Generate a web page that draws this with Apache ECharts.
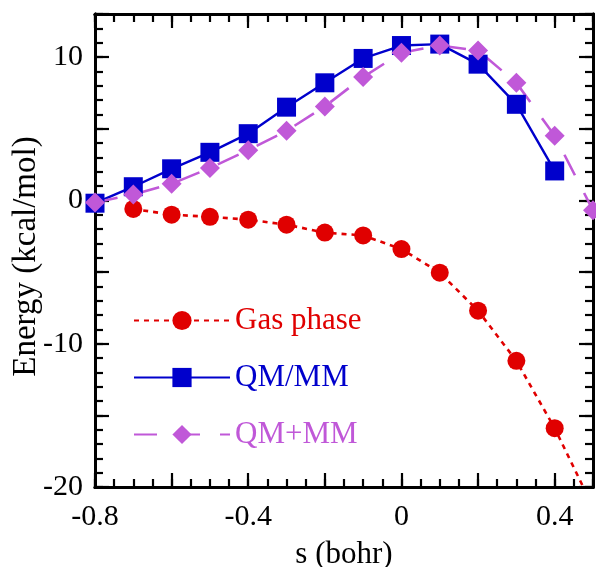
<!DOCTYPE html>
<html>
<head>
<meta charset="utf-8">
<script src="https://cdn.jsdelivr.net/npm/echarts@6/dist/echarts.min.js"></script>
<style>
html,body{margin:0;padding:0;background:#fff;}
#chart{width:596px;height:567px;}
</style>
</head>
<body>
<div id="chart"></div>
<script>
// ---- data ----
const sValues   = [-0.8, -0.7, -0.6, -0.5, -0.4, -0.3, -0.2, -0.1, 0.0, 0.1, 0.2, 0.3, 0.4, 0.5];
const gasPhase  = [null, -0.6, -1.0, -1.15, -1.35, -1.7, -2.25, -2.45, -3.4, -5.05, -7.7, -11.2, -15.9, -21.4];
const qmmm      = [-0.2, 0.95, 2.2, 3.35, 4.65, 6.5, 8.2, 9.9, 10.8, 10.9, 9.5, 6.7, 2.05, null];
const qmPlusMm  = [-0.15, 0.4, 1.15, 2.25, 3.5, 4.85, 6.55, 8.6, 10.3, 10.8, 10.45, 8.2, 4.5, -0.7];
const seriesNames = ['Gas phase', 'QM/MM', 'QM+MM'];
const xTickValues = [-0.8, -0.4, 0, 0.4];
const xTickLabels = ['-0.8', '-0.4', '0', '0.4'];
const yTickValues = [-20, -10, 0, 10];
const yTickLabels = ['-20', '-10', '0', '10'];

const FONT = '"Liberation Serif", "Times New Roman", serif';
const RED = '#e00000', BLUE = '#0000cc', VIOLET = '#c058d8';

function pairs(ys) { return sValues.map((x, i) => [x, ys[i]]); }
function lookup(values, labels) {
  return function (v) {
    for (let i = 0; i < values.length; i++) {
      if (Math.abs(v - values[i]) < 1e-6) return labels[i];
    }
    return '';
  };
}

const axisLine = { show: true, onZero: false, lineStyle: { color: '#000', width: 3 } };
function xAx(pos, interval, len, labels) {
  return {
    type: 'value', position: pos, min: -0.8, max: 0.5, interval: interval,
    axisLine: axisLine,
    axisTick: { show: true, inside: true, length: len, lineStyle: { color: '#000', width: 2.2 } },
    axisLabel: labels ? { show: true, formatter: lookup(xTickValues, xTickLabels), color: '#000',
      fontFamily: FONT, fontSize: 30, margin: 15 } : { show: false },
    splitLine: { show: false },
    name: labels ? 's (bohr)' : '', nameLocation: 'middle', nameGap: 52, nameMoveOverlap: false,
    nameTextStyle: { fontFamily: FONT, fontSize: 31, color: '#000' }
  };
}
function yAx(pos, interval, len, labels) {
  return {
    type: 'value', position: pos, min: -20, max: 13, interval: interval,
    axisLine: axisLine,
    axisTick: { show: true, inside: true, length: len, lineStyle: { color: '#000', width: 2.2 } },
    axisLabel: labels ? { show: true, formatter: lookup(yTickValues, yTickLabels), color: '#000',
      fontFamily: FONT, fontSize: 30, margin: 12 } : { show: false },
    splitLine: { show: false },
    name: labels ? 'Energy (kcal/mol)' : '', nameLocation: 'middle', nameGap: 52, nameRotate: 90,
    nameMoveOverlap: false,
    nameTextStyle: { fontFamily: FONT, fontSize: 33, color: '#000', padding: [0, 12, 0, 0] }
  };
}

const chart = echarts.init(document.getElementById('chart'), null, { renderer: 'canvas' });
chart.setOption({
  animation: false,
  backgroundColor: '#fff',
  grid: { left: 95, right: 3, top: 14, bottom: 80, containLabel: false, outerBoundsMode: 'none' },
  xAxis: [
    xAx('bottom', 0.2, 14, true),
    xAx('bottom', 0.05, 8, false),
    xAx('top', 0.2, 14, false),
    xAx('top', 0.05, 8, false)
  ],
  yAxis: [
    yAx('left', 5, 14, true),
    yAx('left', 1, 8, false),
    yAx('right', 5, 14, false),
    yAx('right', 1, 8, false)
  ],
  legend: {
    orient: 'vertical', left: 128, top: 300, itemWidth: 96, itemHeight: 24, itemGap: 26,
    textStyle: { fontFamily: FONT, fontSize: 31, lineHeight: 31 },
    data: [
      { name: seriesNames[0], textStyle: { color: RED } },
      { name: seriesNames[1], textStyle: { color: BLUE } },
      { name: seriesNames[2], textStyle: { color: VIOLET } }
    ]
  },
  series: [
    {
      name: seriesNames[0], type: 'line', data: pairs(gasPhase),
      symbol: 'circle', symbolSize: 18, clip: true,
      itemStyle: { color: RED },
      lineStyle: { color: RED, width: 2.6, type: [5, 5] }
    },
    {
      name: seriesNames[1], type: 'line', data: pairs(qmmm),
      symbol: 'rect', symbolSize: 19, clip: true,
      itemStyle: { color: BLUE },
      lineStyle: { color: BLUE, width: 2.4, type: 'solid' }
    },
    {
      name: seriesNames[2], type: 'line', data: pairs(qmPlusMm),
      symbol: 'diamond', symbolSize: 20, clip: true,
      itemStyle: { color: VIOLET },
      lineStyle: { color: VIOLET, width: 2.6, type: [23, 20] }
    }
  ]
});
</script>
</body>
</html>
